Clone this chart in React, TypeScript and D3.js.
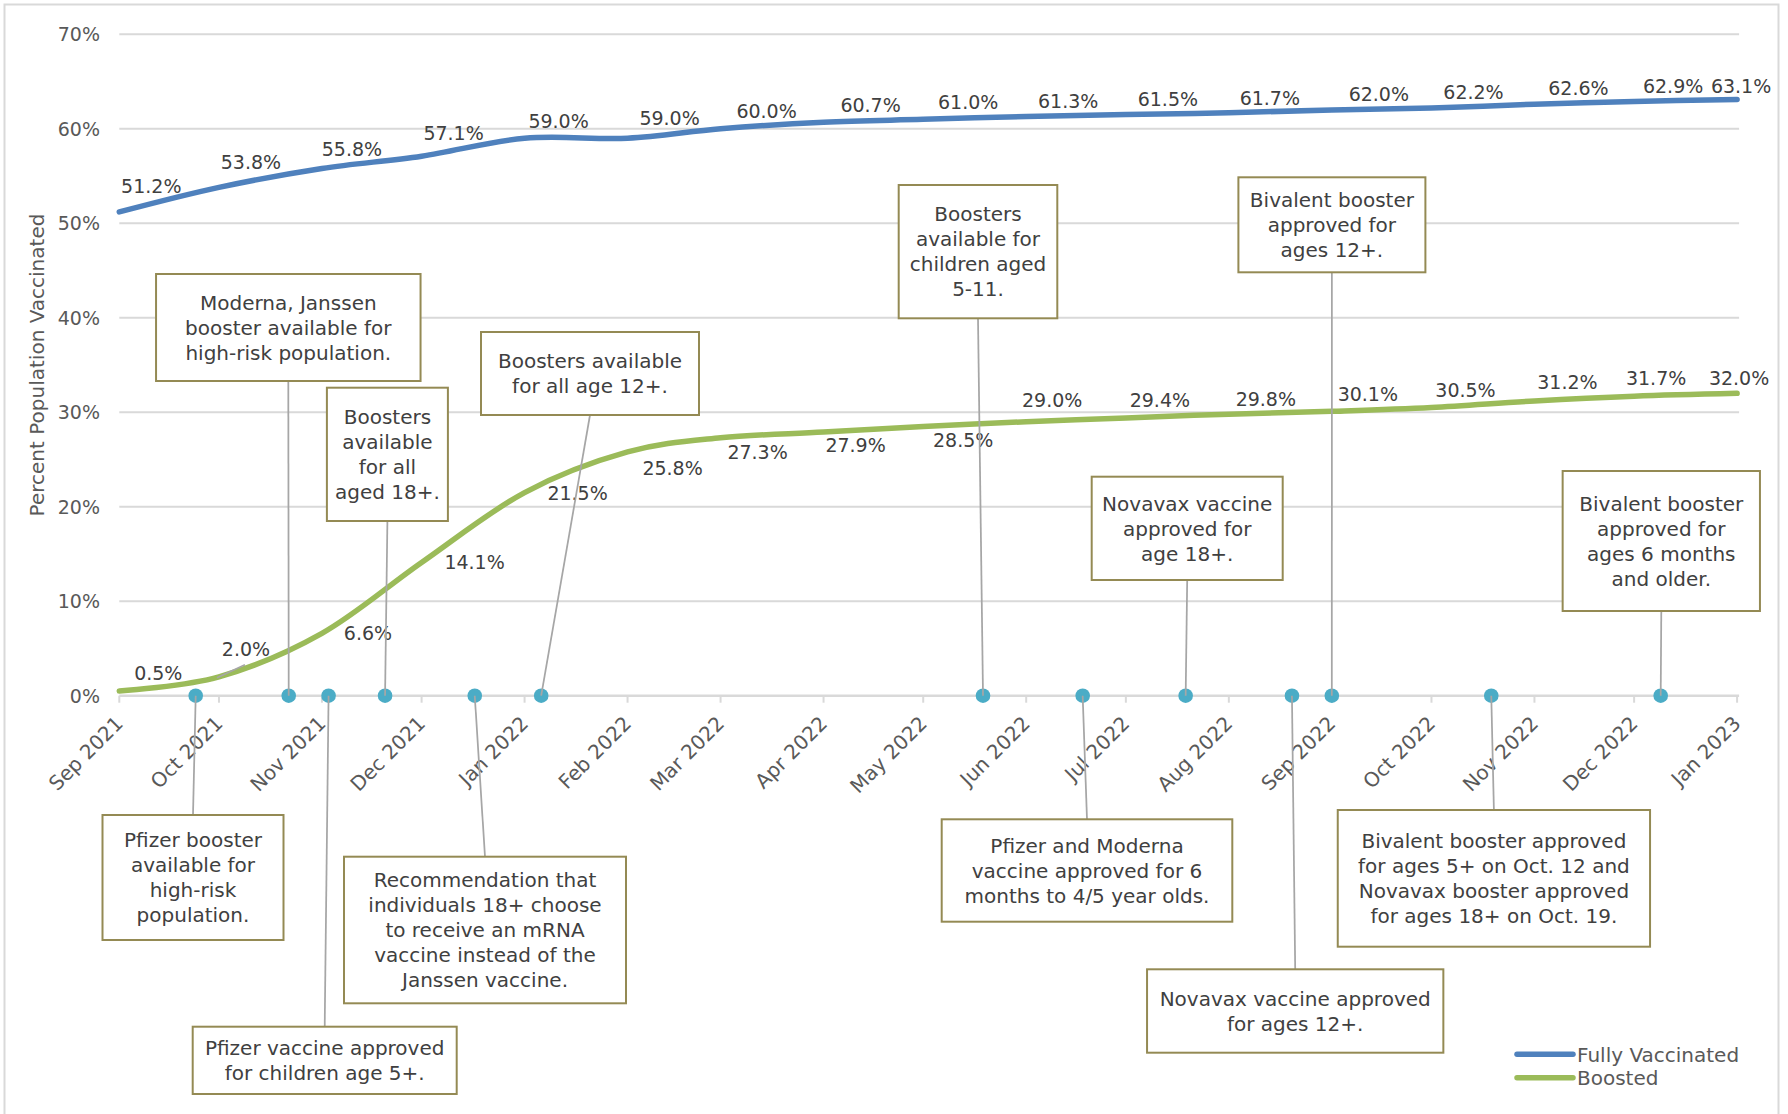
import React from 'react';
import * as d3 from 'd3';

const W = 1788;
const H = 1114;
const FONT = "'DejaVu Sans', Verdana, sans-serif";

// Monthly reporting dates (first of each month)
const reportDates = [
  '2021-09-01', '2021-10-01', '2021-11-01', '2021-12-01', '2022-01-01', '2022-02-01',
  '2022-03-01', '2022-04-01', '2022-05-01', '2022-06-01', '2022-07-01', '2022-08-01',
  '2022-09-01', '2022-10-01', '2022-11-01', '2022-12-01', '2023-01-01',
];

// Percent of population fully vaccinated
const fullyVaccinated = [
  51.2, 53.8, 55.8, 57.1, 59.0, 59.0, 60.0, 60.7, 61.0, 61.3, 61.5, 61.7, 62.0, 62.2, 62.6, 62.9, 63.1,
];

// Percent of population boosted
const boosted = [
  0.5, 2.0, 6.6, 14.1, 21.5, 25.8, 27.3, 27.9, 28.5, 29.0, 29.4, 29.8, 30.1, 30.5, 31.2, 31.7, 32.0,
];

const yTickValues = [0, 10, 20, 30, 40, 50, 60, 70];

// Milestones marked on the time axis
const eventDates = [
  '2021-09-24', '2021-10-22', '2021-11-03', '2021-11-20', '2021-12-17', '2022-01-06',
  '2022-05-19', '2022-06-18', '2022-07-19', '2022-08-20', '2022-09-01', '2022-10-19', '2022-12-09',
];

const eventNotes = [
  ['Pfizer booster', 'available for', 'high-risk', 'population.'],
  ['Moderna, Janssen', 'booster available for', 'high-risk population.'],
  ['Pfizer vaccine approved', 'for children age 5+.'],
  ['Boosters', 'available', 'for all', 'aged 18+.'],
  ['Recommendation that', 'individuals 18+ choose', 'to receive an mRNA', 'vaccine instead of the', 'Janssen vaccine.'],
  ['Boosters available', 'for all age 12+.'],
  ['Boosters', 'available for', 'children aged', '5-11.'],
  ['Pfizer and Moderna', 'vaccine approved for 6', 'months to 4/5 year olds.'],
  ['Novavax vaccine', 'approved for', 'age 18+.'],
  ['Novavax vaccine approved', 'for ages 12+.'],
  ['Bivalent booster', 'approved for', 'ages 12+.'],
  ['Bivalent booster approved', 'for ages 5+ on Oct. 12 and', 'Novavax booster approved', 'for ages 18+ on Oct. 19.'],
  ['Bivalent booster', 'approved for', 'ages 6 months', 'and older.'],
];

// Callout box placement (center x, top, width, height) in px
const calloutBoxes = [
  { cx: 193, top: 815, w: 181, h: 125 },
  { cx: 288.3, top: 274, w: 264.5, h: 107 },
  { cx: 324.7, top: 1026.7, w: 264, h: 67.3 },
  { cx: 387.4, top: 387.7, w: 121, h: 133.3 },
  { cx: 485, top: 856.7, w: 282, h: 146.6 },
  { cx: 590, top: 332, w: 218, h: 83 },
  { cx: 978, top: 185, w: 158.6, h: 133.3 },
  { cx: 1087, top: 819.3, w: 290.6, h: 102.4 },
  { cx: 1187.2, top: 476.7, w: 191, h: 103.3 },
  { cx: 1295.2, top: 969.3, w: 296.3, h: 83.4 },
  { cx: 1331.9, top: 177.3, w: 187, h: 95 },
  { cx: 1493.9, top: 810, w: 312.3, h: 136.7 },
  { cx: 1661.3, top: 471, w: 197.3, h: 140 },
];

// Value label placement relative to each point (dx, dy of label center)
const fullyLabelShift = [
  [32, -26], [32, -25], [30, -19], [32, -23], [34, -17], [42, -20], [46, -18], [47, -17], [45, -17],
  [42, -15], [42, -15], [41, -15], [47, -16], [42, -16], [44, -16], [39, -15], [4, -13],
];
const boostedLabelShift = [
  [39, -18], [27, -28], [46, 0], [53, 0], [53, 1], [45, 16], [37, 14], [32, 13], [40, 14],
  [26, -22], [34, -18], [37, -15], [36, -17], [34, -17], [33, -19], [22, -18], [2, -15],
];

const BLUE = '#4f81bd';
const GREEN = '#9bbb59';
const TEAL = '#4bacc6';
const GRID = '#d9d9d9';
const LEADER = '#a6a6a6';
const BOX_STROKE = '#948a54';
const TEXT = '#404040';
const AXIS_TEXT = '#595959';

const parse = d3.utcParse('%Y-%m-%d');
const dates = reportDates.map((s) => parse(s) as Date);
const events = eventDates.map((s) => parse(s) as Date);

const x = d3
  .scaleUtc()
  .domain([dates[0], dates[dates.length - 1]])
  .range([119.3, 1737.1]);
const y = d3.scaleLinear().domain([0, 70]).range([695.7, 34.3]);

const fmtMonth = d3.utcFormat('%b %Y');
const fmtPct = (v: number) => `${v.toFixed(1)}%`;

function seriesPath(values: number[]) {
  return (
    d3
      .line<number>()
      .x((_, i) => x(dates[i]))
      .y((d) => y(d))
      .curve(d3.curveCatmullRom.alpha(0))(values) || ''
  );
}

export default function App() {
  const axisY = y(0);
  const x0 = x.range()[0];
  const x1 = x.range()[1] + 2;
  const LH = 25;

  return (
    <svg
      width={W}
      height={H}
      viewBox={`0 0 ${W} ${H}`}
      style={{ position: 'absolute', left: 0, top: 0, display: 'block', background: '#fff' }}
      fontFamily={FONT}
    >
      <rect x={0} y={0} width={W} height={H} fill="#fff" />
      <rect x={4.5} y={4.5} width={1774} height={1130} fill="#fff" stroke={GRID} strokeWidth={2} />

      {/* gridlines */}
      {yTickValues.map((v) => (
        <line key={`g${v}`} x1={x0} x2={x1} y1={y(v)} y2={y(v)} stroke={GRID} strokeWidth={v === 0 ? 2.5 : 2} />
      ))}

      {/* y tick labels */}
      {yTickValues.map((v) => (
        <text key={`yl${v}`} x={100} y={y(v)} dy="0.36em" textAnchor="end" fontSize={19} fill={AXIS_TEXT}>
          {`${v}%`}
        </text>
      ))}

      {/* y axis title */}
      <text
        transform={`translate(37,${(y(0) + y(70)) / 2}) rotate(-90)`}
        textAnchor="middle"
        dy="0.36em"
        fontSize={20}
        fill={AXIS_TEXT}
      >
        Percent Population Vaccinated
      </text>

      {/* x ticks and labels */}
      {dates.map((d, i) => (
        <g key={`xt${i}`}>
          <line x1={x(d)} x2={x(d)} y1={axisY} y2={axisY + 7} stroke={GRID} strokeWidth={2} />
          <text
            transform={`translate(${x(d) + 5},${axisY + 29}) rotate(-45)`}
            textAnchor="end"
            fontSize={20}
            fill={AXIS_TEXT}
          >
            {fmtMonth(d)}
          </text>
        </g>
      ))}

      {/* series lines */}
      <path d={seriesPath(fullyVaccinated)} fill="none" stroke={BLUE} strokeWidth={5.5} strokeLinecap="round" />
      <path d={seriesPath(boosted)} fill="none" stroke={GREEN} strokeWidth={5.5} strokeLinecap="round" />

      {/* short leader for the 2.0% label */}
      <line
        x1={x(dates[1]) - 2}
        y1={y(boosted[1]) + 1}
        x2={x(dates[1]) + boostedLabelShift[1][0] - 1}
        y2={y(boosted[1]) + boostedLabelShift[1][1] + 16}
        stroke={LEADER}
        strokeWidth={1.75}
      />

      {/* value labels */}
      {fullyVaccinated.map((v, i) => (
        <text
          key={`fl${i}`}
          x={x(dates[i]) + fullyLabelShift[i][0]}
          y={y(v) + fullyLabelShift[i][1]}
          dy="0.36em"
          textAnchor="middle"
          fontSize={19}
          fill={TEXT}
        >
          {fmtPct(v)}
        </text>
      ))}
      {boosted.map((v, i) => (
        <text
          key={`bl${i}`}
          x={x(dates[i]) + boostedLabelShift[i][0]}
          y={y(v) + boostedLabelShift[i][1]}
          dy="0.36em"
          textAnchor="middle"
          fontSize={19}
          fill={TEXT}
        >
          {fmtPct(v)}
        </text>
      ))}

      {/* milestone markers */}
      {events.map((d, i) => (
        <circle key={`ev${i}`} cx={x(d)} cy={axisY} r={7.3} fill={TEAL} />
      ))}

      {/* leaders from markers to callouts */}
      {events.map((d, i) => {
        const b = calloutBoxes[i];
        const above = b.top < axisY;
        const ey = above ? b.top + b.h : b.top;
        return (
          <line key={`ld${i}`} x1={x(d)} y1={axisY} x2={b.cx} y2={ey} stroke={LEADER} strokeWidth={1.75} />
        );
      })}

      {/* callout boxes */}
      {eventNotes.map((lines, i) => {
        const b = calloutBoxes[i];
        const cy = b.top + b.h / 2;
        const firstBase = cy - ((lines.length - 1) * LH) / 2 + 7.3;
        return (
          <g key={`cb${i}`}>
            <rect x={b.cx - b.w / 2} y={b.top} width={b.w} height={b.h} fill="#fff" stroke={BOX_STROKE} strokeWidth={2} />
            {lines.map((ln, j) => (
              <text key={j} x={b.cx} y={firstBase + j * LH} textAnchor="middle" fontSize={20} fill={TEXT}>
                {ln}
              </text>
            ))}
          </g>
        );
      })}

      {/* legend */}
      <line x1={1517} x2={1573} y1={1054.3} y2={1054.3} stroke={BLUE} strokeWidth={5.5} strokeLinecap="round" />
      <text x={1577} y={1054.3} dy="0.36em" fontSize={20} fill={AXIS_TEXT}>
        Fully Vaccinated
      </text>
      <line x1={1517} x2={1573} y1={1077.7} y2={1077.7} stroke={GREEN} strokeWidth={5.5} strokeLinecap="round" />
      <text x={1577} y={1077.7} dy="0.36em" fontSize={20} fill={AXIS_TEXT}>
        Boosted
      </text>
    </svg>
  );
}
